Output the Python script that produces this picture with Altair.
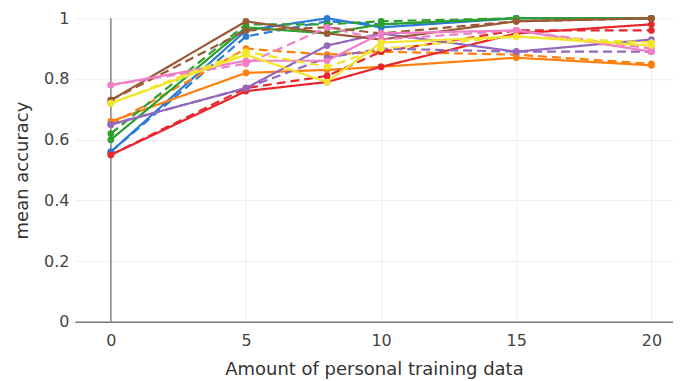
import altair as alt
import pandas as pd

x_vals = [0, 5, 8, 10, 15, 20]

blue_solid = [0.56, 0.96, 1.00, 0.97, 1.00, 1.00]
blue_dash = [0.56, 0.94, 0.99, 0.98, 1.00, 1.00]
green_solid = [0.60, 0.97, 0.95, 0.98, 1.00, 1.00]
green_dash = [0.62, 0.98, 0.98, 0.99, 1.00, 1.00]
brown_solid = [0.73, 0.99, 0.95, 0.93, 0.99, 1.00]
brown_dash = [0.73, 0.96, 0.97, 0.95, 0.99, 1.00]
orange_solid = [0.66, 0.82, 0.83, 0.84, 0.87, 0.845]
orange_dash = [0.65, 0.90, 0.88, 0.89, 0.88, 0.85]
red_solid = [0.55, 0.76, 0.79, 0.84, 0.95, 0.98]
red_dash = [0.55, 0.77, 0.81, 0.89, 0.96, 0.96]
purple_solid = [0.65, 0.77, 0.91, 0.95, 0.89, 0.93]
purple_dash = [0.65, 0.77, 0.87, 0.90, 0.89, 0.89]
pink_solid = [0.78, 0.86, 0.86, 0.95, 0.96, 0.89]
pink_dash = [0.78, 0.85, 0.97, 0.93, 0.96, 0.90]
yellow_solid = [0.72, 0.88, 0.79, 0.92, 0.94, 0.91]
yellow_dash = [0.72, 0.89, 0.84, 0.90, 0.94, 0.92]

series = [
    ("blue solid", "solid", blue_solid),
    ("blue dash", "dash", blue_dash),
    ("orange solid", "solid", orange_solid),
    ("orange dash", "dash", orange_dash),
    ("green solid", "solid", green_solid),
    ("green dash", "dash", green_dash),
    ("red solid", "solid", red_solid),
    ("red dash", "dash", red_dash),
    ("purple solid", "solid", purple_solid),
    ("purple dash", "dash", purple_dash),
    ("brown solid", "solid", brown_solid),
    ("brown dash", "dash", brown_dash),
    ("pink solid", "solid", pink_solid),
    ("pink dash", "dash", pink_dash),
    ("yellow solid", "solid", yellow_solid),
    ("yellow dash", "dash", yellow_dash),
]
series_names = [s[0] for s in series]
series_colors = ["#2a7bd6", "#2a7bd6", "#ff7f0e", "#ff7f0e", "#2ca02c", "#2ca02c",
                 "#e8262b", "#e8262b", "#9467bd", "#9467bd", "#9c5a34", "#9c5a34",
                 "#ef7fc6", "#ef7fc6", "#f2e52a", "#f2e52a"]

rows = []
for name, style, vals in series:
    for xv, yv in zip(x_vals, vals):
        rows.append({"x": xv, "y": yv, "series": name, "style": style})
df = pd.DataFrame(rows)

W, H = 599, 304
xscale = alt.Scale(domain=[-1.33, 20.8], nice=False, zero=False)
yscale = alt.Scale(domain=[0, 1], nice=False)

color = alt.Color("series:N", scale=alt.Scale(domain=series_names, range=series_colors), legend=None)
dash = alt.StrokeDash("style:N", scale=alt.Scale(domain=["solid", "dash"], range=[[1, 0], [9, 5]]), legend=None)

base = alt.Chart(df)

lines = base.mark_line(strokeWidth=2.2, clip=False).encode(
    x=alt.X("x:Q", scale=xscale,
            axis=alt.Axis(title="Amount of personal training data", values=[0, 5, 10, 15, 20],
                          grid=True, gridColor="#eeeeee", domain=True, domainColor="#777777",
                          domainWidth=1.5, ticks=False, labelPadding=11, labelFontSize=16,
                          labelColor="#444444", titleFontSize=18, titleFontWeight="normal",
                          titleColor="#333333", titlePadding=12, labelFont="DejaVu Sans",
                          titleFont="DejaVu Sans")),
    y=alt.Y("y:Q", scale=yscale,
            axis=alt.Axis(title="mean accuracy", values=[0, 0.2, 0.4, 0.6, 0.8, 1.0], format="~g",
                          grid=True, gridColor="#eeeeee", domain=False, ticks=False,
                          labelPadding=6, labelFontSize=16, labelColor="#444444",
                          titleFontSize=18, titleFontWeight="normal", titleColor="#333333",
                          titlePadding=12, labelFont="DejaVu Sans", titleFont="DejaVu Sans")),
    color=color,
    strokeDash=dash,
    detail="series:N",
)

points = base.mark_circle(size=45, opacity=1, clip=False).encode(
    x=alt.X("x:Q", scale=xscale),
    y=alt.Y("y:Q", scale=yscale),
    color=color,
)

zero_df = pd.DataFrame({"x": [0], "y0": [0], "y1": [1]})
zero_line = alt.Chart(zero_df).mark_rule(color="#888888", strokeWidth=1.5).encode(
    x=alt.X("x:Q", scale=xscale),
    y=alt.Y("y0:Q", scale=yscale),
    y2="y1:Q",
)

chart = alt.layer(zero_line, lines, points).properties(
    width=W, height=H,
    autosize=alt.AutoSizeParams(type="none"),
    padding={"left": 67, "top": 10, "right": 0, "bottom": 58},
).configure_view(stroke=None)

chart.save("out.html", embed_options={"renderer": "svg", "actions": False})
